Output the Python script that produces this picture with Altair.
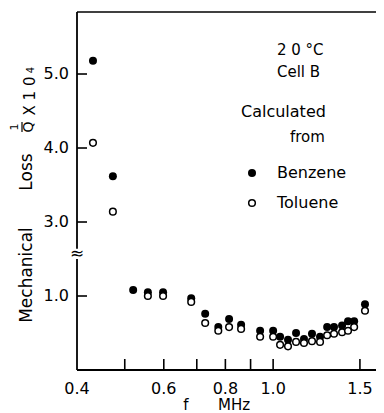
import altair as alt
import pandas as pd

# ---- data ----
freq = [0.431, 0.473, 0.520, 0.557, 0.598, 0.682, 0.728, 0.774, 0.814, 0.861,
        0.941, 1.000, 1.033, 1.072, 1.113, 1.155, 1.199, 1.245, 1.287, 1.329,
        1.380, 1.419, 1.460, 1.536]
benzene = [5.18, 3.62, 1.08, 1.05, 1.05, 0.97, 0.76, 0.58, 0.69, 0.61,
           0.53, 0.53, 0.45, 0.41, 0.50, 0.42, 0.49, 0.45, 0.58, 0.58,
           0.60, 0.66, 0.66, 0.89]
toluene = [4.07, 3.14, None, 1.00, 1.00, 0.92, 0.635, 0.53, 0.58, 0.555,
           0.45, 0.45, 0.34, 0.32, 0.38, 0.365, 0.39, 0.38, 0.47, 0.49,
           0.51, 0.53, 0.58, 0.80]

x_label_values = [0.4, 0.6, 0.8, 1.0, 1.5]
x_label_texts = ["0.4", "0.6", "0.8", "1.0", "1.5"]
x_tick_values = [0.5, 0.6, 0.7, 0.8, 0.9, 1.0, 1.5]
y_tick_values = [1.0, 3.0, 4.0, 5.0]
y_label_texts = ["1.0", "3.0", "4.0", "5.0"]
BREAK_LOW = 1.50   # axis break (drawn scale) lower end
BREAK_HIGH = 1.64  # axis break (drawn scale) upper end
BREAK_SHIFT = 1.0  # values above the break are shifted down by this amount

W, H = 299, 358
FONT = "DejaVu Sans"


def squash(v):
    return v if v < 2 else v - BREAK_SHIFT


rows = []
for f, b, t in zip(freq, benzene, toluene):
    rows.append({"f": f, "y": b, "yp": squash(b), "s": "Benzene"})
    if t is not None:
        rows.append({"f": f, "y": t, "yp": squash(t), "s": "Toluene"})
df = pd.DataFrame(rows)

xscale = alt.Scale(type="log", domain=[0.4, 1.617], nice=False)
yscale = alt.Scale(domain=[0, 4.838], nice=False, zero=False)

ben = alt.Chart(df[df.s == "Benzene"]).mark_point(
    shape="circle", filled=True, color="black", size=64, opacity=1
).encode(
    x=alt.X("f:Q", scale=xscale, axis=None),
    y=alt.Y("yp:Q", scale=yscale, axis=None),
)

tol = alt.Chart(df[df.s == "Toluene"]).mark_point(
    shape="circle", filled=False, fill="white", fillOpacity=1, stroke="black",
    strokeWidth=1.5, size=44, opacity=1
).encode(
    x=alt.X("f:Q", scale=xscale, axis=None),
    y=alt.Y("yp:Q", scale=yscale, axis=None),
)

# axis lines / frame
ax_seg = pd.DataFrame({"y1": [0.0, BREAK_HIGH], "y2": [BREAK_LOW, 4.838]})
left_axis = alt.Chart(ax_seg).mark_rule(color="black", strokeWidth=1.8).encode(
    x=alt.value(0),
    y=alt.Y("y1:Q", scale=yscale, axis=None),
    y2="y2:Q",
)
bottom_axis = alt.Chart(pd.DataFrame({"a": [0]})).mark_rule(
    color="black", strokeWidth=1.8
).encode(x=alt.value(0), x2=alt.value(W), y=alt.value(H))
top_axis = alt.Chart(pd.DataFrame({"a": [0]})).mark_rule(
    color="black", strokeWidth=1.5
).encode(x=alt.value(0), x2=alt.value(W), y=alt.value(0))

# axis-break symbol
tilde = alt.Chart(pd.DataFrame({"yb": [(BREAK_LOW + BREAK_HIGH) / 2]})).mark_text(
    text="≈", fontSize=17, font=FONT, color="black", baseline="middle"
).encode(x=alt.value(0), y=alt.Y("yb:Q", scale=yscale, axis=None))

# ticks (inward)
xt = alt.Chart(pd.DataFrame({"v": x_tick_values})).mark_rule(
    color="black", strokeWidth=1.6
).encode(x=alt.X("v:Q", scale=xscale, axis=None), y=alt.value(H), y2=alt.value(H - 11))
yt = alt.Chart(pd.DataFrame({"v": [squash(v) for v in y_tick_values]})).mark_rule(
    color="black", strokeWidth=1.6
).encode(y=alt.Y("v:Q", scale=yscale, axis=None), x=alt.value(0), x2=alt.value(10))

# tick labels
xl = alt.Chart(pd.DataFrame({"v": x_label_values, "t": x_label_texts})).mark_text(
    font=FONT, fontSize=16, color="black", align="center", baseline="middle"
).encode(x=alt.X("v:Q", scale=xscale, axis=None), y=alt.value(H + 19), text="t:N")
yl = alt.Chart(pd.DataFrame({"v": [squash(v) for v in y_tick_values],
                             "t": y_label_texts})).mark_text(
    font=FONT, fontSize=16, color="black", align="right", baseline="middle"
).encode(y=alt.Y("v:Q", scale=yscale, axis=None), x=alt.value(-8), text="t:N")


def label(txt, x, y, size=15, angle=0, align="left"):
    return alt.Chart(pd.DataFrame({"t": [txt]})).mark_text(
        font=FONT, fontSize=size, color="black", align=align, baseline="middle",
        angle=angle
    ).encode(text="t:N", x=alt.value(x), y=alt.value(y))


notes = [
    label("2 0 °C", 200, 38),
    label("Cell B", 200, 60),
    label("Calculated", 164, 100, size=16),
    label("from", 213, 125),
    label("Benzene", 200, 161, size=16),
    label("Toluene", 200, 191, size=16),
    # axis titles
    label("Mechanical", -50, 263, size=17, angle=270, align="center"),
    label("Loss", -50, 160, size=17, angle=270, align="center"),
    label("1", -62, 115, size=11, angle=270, align="center"),
    label("Q", -48, 115, size=14, angle=270, align="center"),
    label("X 1 0", -47, 84, size=15, angle=270, align="center"),
    label("4", -46, 58, size=10, angle=270, align="center"),
    label("f", 109, 393, size=15, align="center"),
    label("MHz", 157, 393, size=15, align="center"),
]

frac_bar = alt.Chart(pd.DataFrame({"a": [0]})).mark_rule(
    color="black", strokeWidth=1.2
).encode(x=alt.value(-55), y=alt.value(110), y2=alt.value(120))

leg_b = alt.Chart(pd.DataFrame({"a": [0]})).mark_point(
    shape="circle", filled=True, color="black", size=64, opacity=1
).encode(x=alt.value(175), y=alt.value(161))
leg_t = alt.Chart(pd.DataFrame({"a": [0]})).mark_point(
    shape="circle", filled=False, fill="white", fillOpacity=1, stroke="black",
    strokeWidth=1.5, size=44, opacity=1
).encode(x=alt.value(175), y=alt.value(191))

chart = alt.layer(
    ben, tol, left_axis, bottom_axis, top_axis, tilde, xt, yt, xl, yl, frac_bar,
    leg_b, leg_t, *notes
).properties(
    width=W, height=H,
    autosize=alt.AutoSizeParams(type="none"),
    padding={"left": 69, "top": 4, "right": 0, "bottom": 43},
    background="white",
).configure_view(stroke=None)

chart.save("out.html", embed_options={"renderer": "svg", "actions": False})
